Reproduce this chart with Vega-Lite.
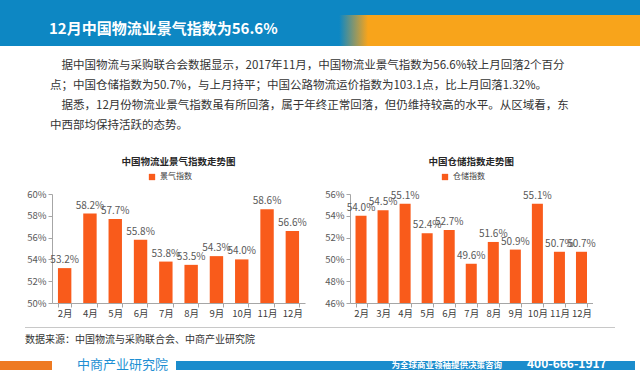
{
  "$schema": "https://vega.github.io/schema/vega-lite/v6.json",
  "padding": 0,
  "background": "white",
  "spacing": 0,
  "config": {"view": {"stroke": null}, "font": "Noto Sans CJK SC"},
  "datasets": {
    "lpi": [
      {"m": "2月", "v": 0.532}, {"m": "4月", "v": 0.582}, {"m": "5月", "v": 0.577}, {"m": "6月", "v": 0.558},
      {"m": "7月", "v": 0.538}, {"m": "8月", "v": 0.535}, {"m": "9月", "v": 0.543}, {"m": "10月", "v": 0.540},
      {"m": "11月", "v": 0.586}, {"m": "12月", "v": 0.566}
    ],
    "wh": [
      {"m": "2月", "v": 0.540}, {"m": "3月", "v": 0.545}, {"m": "4月", "v": 0.551}, {"m": "5月", "v": 0.524},
      {"m": "6月", "v": 0.527}, {"m": "7月", "v": 0.496}, {"m": "8月", "v": 0.516}, {"m": "9月", "v": 0.509},
      {"m": "10月", "v": 0.551}, {"m": "11月", "v": 0.507}, {"m": "12月", "v": 0.507}
    ],
    "none": []
  },
  "vconcat": [
    {"width": 640, "height": 15, "data": {"name": "none"}, "mark": "point", "encoding": {}, "view": {"fill": "#0d87c3", "stroke": null}},
    {"width": 640, "height": 31, "data": {"name": "none"}, "mark": "point", "encoding": {},
     "view": {"stroke": null, "fill": {"gradient": "linear", "x1": 0, "y1": 0, "x2": 1, "y2": 0,
       "stops": [{"offset": 0, "color": "#0d87c3"}, {"offset": 0.53, "color": "#0d87c3"}, {"offset": 0.575, "color": "#f8a41b"}, {"offset": 1, "color": "#f8a41b"}]}},
     "title": {"text": "12月中国物流业景气指数为56.6%", "orient": "top", "anchor": "start", "frame": "group", "offset": 0, "dx": 49, "dy": 21.5, "baseline": "top", "color": "white", "fontSize": 15, "fontWeight": "bold"}
    },
    {"width": 640, "height": 111, "data": {"name": "none"}, "mark": "point", "encoding": {},
     "title": {"text": [
        "‍　据中国物流与采购联合会数据显示，2017年11月，中国物流业景气指数为56.6%较上月回落2个百分",
        "点；中国仓储指数为50.7%，与上月持平；中国公路物流运价指数为103.1点，比上月回落1.32%。",
        "‍　据悉，12月份物流业景气指数虽有所回落，属于年终正常回落，但仍维持较高的水平。从区域看，东",
        "中西部均保持活跃的态势。"],
       "orient": "top", "anchor": "start", "frame": "group", "offset": 0, "dx": 50, "dy": 85.5, "baseline": "top", "lineHeight": 20, "fontSize": 11.5, "fontWeight": "normal", "color": "#333333"}
    },
    {"spacing": 17,
     "resolve": {"scale": {"color": "independent", "x": "independent", "y": "independent"}, "legend": {"color": "independent"}},
     "hconcat": [
      {"width": 8.7, "height": 1, "data": {"name": "none"}, "mark": "point", "encoding": {}},
      {"width": 253, "height": 109, "data": {"name": "lpi"},
       "title": {"text": "中国物流业景气指数走势图", "fontSize": 9.5, "fontWeight": "bold", "color": "#262626", "baseline": "middle", "offset": 1.1, "anchor": "middle"},
       "encoding": {
         "x": {"field": "m", "type": "nominal", "sort": null, "scale": {"paddingInner": 0.47, "paddingOuter": 0.235},
               "axis": {"title": null, "labelAngle": 0, "domainColor": "#a6a6a6", "tickColor": "#a6a6a6", "tickSize": 4, "tickBand": "extent", "labelFontSize": 9.5, "labelFont": "Liberation Sans Narrow, Noto Sans CJK SC", "labelColor": "#404040", "labelPadding": 1}},
         "y": {"field": "v", "type": "quantitative", "scale": {"domain": [0.5, 0.6], "zero": false, "nice": false},
               "axis": {"title": null, "values": [0.5, 0.52, 0.54, 0.56, 0.58, 0.6], "format": ".0%", "grid": false, "domainColor": "#a6a6a6", "tickColor": "#a6a6a6", "tickSize": 4, "labelFontSize": 9.5, "labelFont": "Liberation Sans Narrow, Noto Sans CJK SC", "labelColor": "#595959", "labelPadding": 2}}
       },
       "layer": [
         {"mark": {"type": "bar"},
          "encoding": {"y2": {"datum": 0.5},
            "color": {"datum": "景气指数", "type": "nominal", "scale": {"range": ["#f95b1b"]},
              "legend": {"orient": "none", "legendX": 96, "legendY": -21, "title": null, "symbolType": "square", "symbolSize": 40, "symbolStrokeWidth": 0, "labelFontSize": 8, "labelColor": "#404040", "labelOffset": 4, "padding": 0}}}},
         {"mark": {"type": "text", "baseline": "bottom", "dy": -3, "fontSize": 10, "font": "Liberation Sans Narrow, Noto Sans CJK SC", "color": "#595959"},
          "encoding": {"text": {"field": "v", "type": "quantitative", "format": ".1%"}}}
       ]
      },
      {"width": 242.5, "height": 109, "data": {"name": "wh"},
       "title": {"text": "中国仓储指数走势图", "fontSize": 9.5, "fontWeight": "bold", "color": "#262626", "baseline": "middle", "offset": 1.1, "anchor": "middle"},
       "encoding": {
         "x": {"field": "m", "type": "nominal", "sort": null, "scale": {"paddingInner": 0.5, "paddingOuter": 0.25},
               "axis": {"title": null, "labelAngle": 0, "domainColor": "#a6a6a6", "tickColor": "#a6a6a6", "tickSize": 4, "tickBand": "extent", "labelFontSize": 9.5, "labelFont": "Liberation Sans Narrow, Noto Sans CJK SC", "labelColor": "#404040", "labelPadding": 1}},
         "y": {"field": "v", "type": "quantitative", "scale": {"domain": [0.46, 0.56], "zero": false, "nice": false},
               "axis": {"title": null, "values": [0.46, 0.48, 0.5, 0.52, 0.54, 0.56], "format": ".0%", "grid": false, "domainColor": "#a6a6a6", "tickColor": "#a6a6a6", "tickSize": 4, "labelFontSize": 9.5, "labelFont": "Liberation Sans Narrow, Noto Sans CJK SC", "labelColor": "#595959", "labelPadding": 2}}
       },
       "layer": [
         {"mark": {"type": "bar"},
          "encoding": {"y2": {"datum": 0.46},
            "color": {"datum": "仓储指数", "type": "nominal", "scale": {"range": ["#f95b1b"]},
              "legend": {"orient": "none", "legendX": 91, "legendY": -21, "title": null, "symbolType": "square", "symbolSize": 40, "symbolStrokeWidth": 0, "labelFontSize": 8, "labelColor": "#404040", "labelOffset": 4, "padding": 0}}}},
         {"mark": {"type": "text", "baseline": "bottom", "dy": -3, "fontSize": 10, "font": "Liberation Sans Narrow, Noto Sans CJK SC", "color": "#595959"},
          "encoding": {"text": {"field": "v", "type": "quantitative", "format": ".1%"}}}
       ]
      }
     ]
    },
    {"spacing": 0, "hconcat": [
      {"width": 25, "height": 10, "data": {"name": "none"}, "mark": "point", "encoding": {}},
      {"width": 590, "height": 10, "data": {"name": "none"}, "mark": "point", "encoding": {},
       "view": {"stroke": null, "fill": {"gradient": "linear", "x1": 0, "y1": 0, "x2": 0, "y2": 1,
         "stops": [{"offset": 0, "color": "#ffffff"}, {"offset": 0.86, "color": "#ffffff"}, {"offset": 0.86, "color": "#c8c8c8"}, {"offset": 1, "color": "#c8c8c8"}]}},
       "title": {"text": "数据来源：中国物流与采购联合会、中商产业研究院", "orient": "bottom", "anchor": "start", "frame": "group", "offset": 7, "baseline": "top", "fontSize": 10, "fontWeight": "normal", "color": "#333333"}}
    ]},
    {"spacing": 0, "hconcat": [
      {"width": 52, "height": 25, "data": {"name": "none"}, "mark": "point", "encoding": {},
       "view": {"stroke": null, "fill": {"gradient": "linear", "x1": 0, "y1": 0, "x2": 0, "y2": 1,
         "stops": [{"offset": 0, "color": "#ffffff"}, {"offset": 0.64, "color": "#ffffff"}, {"offset": 0.64, "color": "#ee7a22"}, {"offset": 1, "color": "#ee7a22"}]}}},
      {"width": 124, "height": 25, "data": {"name": "none"}, "mark": "point", "encoding": {},
       "title": {"text": "中商产业研究院", "orient": "top", "anchor": "start", "frame": "group", "offset": 0, "dx": 25, "dy": 26.5, "baseline": "top", "fontSize": 13, "fontWeight": "normal", "color": "#1e8fd3"}},
      {"width": 344, "height": 25, "data": {"name": "none"}, "mark": "point", "encoding": {},
       "view": {"stroke": null, "fill": {"gradient": "linear", "x1": 0, "y1": 0, "x2": 0, "y2": 1,
         "stops": [{"offset": 0, "color": "#ffffff"}, {"offset": 0.64, "color": "#ffffff"}, {"offset": 0.64, "color": "#1b8ccc"}, {"offset": 1, "color": "#1b8ccc"}]}},
       "title": {"text": "为全球商业领袖提供决策咨询", "orient": "top", "anchor": "end", "frame": "group", "offset": 0, "dx": -18, "dy": 24.25, "baseline": "top", "fontSize": 8.5, "fontWeight": "bold", "color": "white"}},
      {"width": 115, "height": 25, "data": {"name": "none"}, "mark": "point", "encoding": {},
       "view": {"stroke": null, "fill": {"gradient": "linear", "x1": 0, "y1": 0, "x2": 0, "y2": 1,
         "stops": [{"offset": 0, "color": "#ffffff"}, {"offset": 0.64, "color": "#ffffff"}, {"offset": 0.64, "color": "#1b8ccc"}, {"offset": 1, "color": "#1b8ccc"}]}},
       "title": {"text": "400-666-1917", "orient": "top", "anchor": "start", "frame": "group", "offset": 0, "dx": 7, "dy": 26, "baseline": "top", "fontSize": 12, "fontWeight": "bold", "color": "white"}}
    ]}
  ]
}
